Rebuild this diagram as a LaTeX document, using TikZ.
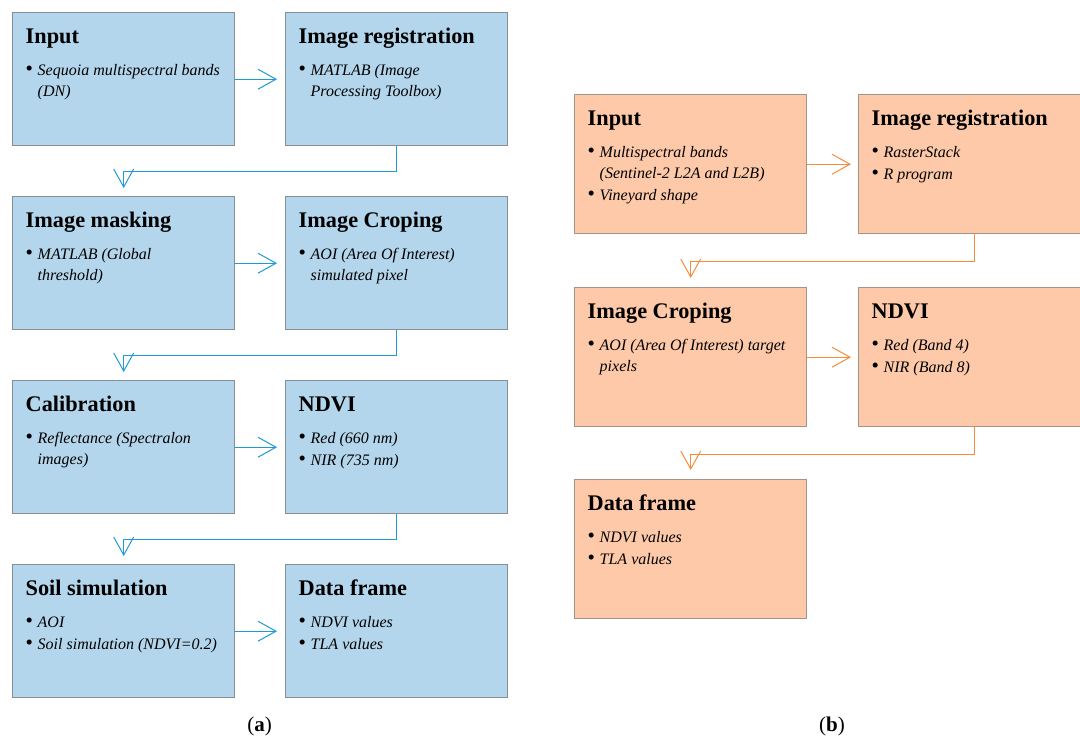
\documentclass[tikz,border=0pt]{standalone}
\usepackage{fontspec}
\setmainfont{Liberation Serif}
\usetikzlibrary{arrows.meta}

\definecolor{bluefill}{RGB}{180,214,236}
\definecolor{bluelink}{RGB}{30,154,214}
\definecolor{bluerim}{RGB}{135,142,150}
\definecolor{orangefill}{RGB}{253,201,169}
\definecolor{orangelink}{RGB}{245,140,60}
\definecolor{orangerim}{RGB}{165,148,138}

\newcommand{\titlefont}{\fontsize{22.3}{24}\bfseries\selectfont}
\newcommand{\bitem}[1]{\par\vspace{1pt}\hangindent=12pt\hangafter=1\noindent\makebox[12pt][l]{\smash{\fontsize{21}{21}\selectfont\textbullet}}\textit{#1}}
\newcommand{\stepbox}[4]{\parbox[c][#1][t]{#2}{\fontsize{16}{21}\selectfont\raggedright
  \rule{0pt}{31pt}{\titlefont #3}\par\vspace{9.5pt}#4}}

\begin{document}
\begin{tikzpicture}[x=1pt, y=-1pt,
    flow/.style={draw, line width=1.4pt, inner xsep=13pt, inner ysep=0pt, anchor=north west},
    flowa/.style={flow, draw=bluerim, fill=bluefill},
    flowb/.style={flow, draw=orangerim, fill=orangefill},
    linka/.style={draw=bluelink, line width=1pt, -{Straight Barb[length=18pt, width=20pt, line width=1pt]}},
    linkb/.style={draw=orangelink, line width=1pt, -{Straight Barb[length=18pt, width=20pt, line width=1pt]}}]
    \useasboundingbox (0,0) rectangle (1080,744);

    % (a)
    \node[flowa] (ina) at (12,12) {\stepbox{133pt}{196pt}{Input}{\bitem{Sequoia multispectral bands (DN)}}};
    \node[flowa] (rega) at (285,12) {\stepbox{133pt}{196pt}{Image registration}{\bitem{MATLAB (Image\newline Processing Toolbox)}}};
    \node[flowa] (maska) at (12,196) {\stepbox{133pt}{196pt}{Image masking}{\bitem{MATLAB (Global\newline threshold)}}};
    \node[flowa] (cropa) at (285,196) {\stepbox{133pt}{196pt}{Image Croping}{\bitem{AOI (Area Of Interest) simulated pixel}}};
    \node[flowa] (calia) at (12,380) {\stepbox{133pt}{196pt}{Calibration}{\bitem{Reflectance (Spectralon images)}}};
    \node[flowa] (ndvia) at (285,380) {\stepbox{133pt}{196pt}{NDVI}{\bitem{Red (660 nm)}\bitem{NIR (735 nm)}}};
    \node[flowa] (soila) at (12,564) {\stepbox{133pt}{196pt}{Soil simulation}{\bitem{AOI}\bitem{Soil simulation (NDVI=0.2)}}};
    \node[flowa] (dataa) at (285,564) {\stepbox{133pt}{196pt}{Data frame}{\bitem{NDVI values}\bitem{TLA values}}};

    \draw[linka, shorten >=8pt] (ina) -- (rega);
    \draw[linka, shorten >=8pt] (rega.south) -- ++(0,25) -| (maska.north);
    \draw[linka, shorten >=8pt] (maska) -- (cropa);
    \draw[linka, shorten >=8pt] (cropa.south) -- ++(0,25) -| (calia.north);
    \draw[linka, shorten >=8pt] (calia) -- (ndvia);
    \draw[linka, shorten >=8pt] (ndvia.south) -- ++(0,25) -| (soila.north);
    \draw[linka, shorten >=8pt] (soila) -- (dataa);

    % (b)
    \node[flowb] (inb) at (574,94) {\stepbox{139pt}{206pt}{Input}{\bitem{Multispectral bands (Sentinel-2 L2A and L2B)}\bitem{Vineyard shape}}};
    \node[flowb] (regb) at (858,94) {\stepbox{139pt}{206pt}{Image registration}{\bitem{RasterStack}\bitem{R program}}};
    \node[flowb] (cropb) at (574,287) {\stepbox{139pt}{206pt}{Image Croping}{\bitem{AOI (Area Of Interest) target pixels}}};
    \node[flowb] (ndvib) at (858,287) {\stepbox{139pt}{206pt}{NDVI}{\bitem{Red (Band 4)}\bitem{NIR (Band 8)}}};
    \node[flowb] (datab) at (574,479) {\stepbox{139pt}{206pt}{Data frame}{\bitem{NDVI values}\bitem{TLA values}}};

    \draw[linkb, shorten >=7pt] (inb) -- (regb);
    \draw[linkb, shorten >=9pt] (regb.south) -- ++(0,27) -| (cropb.north);
    \draw[linkb, shorten >=7pt] (cropb) -- (ndvib);
    \draw[linkb, shorten >=9pt] (ndvib.south) -- ++(0,27) -| (datab.north);

    \node[font=\fontsize{21}{24}\selectfont] (capa) at (259.5,726) {(\textbf{a})};
    \node[font=\fontsize{21}{24}\selectfont] (capb) at (832,726) {(\textbf{b})};
\end{tikzpicture}
\end{document}
